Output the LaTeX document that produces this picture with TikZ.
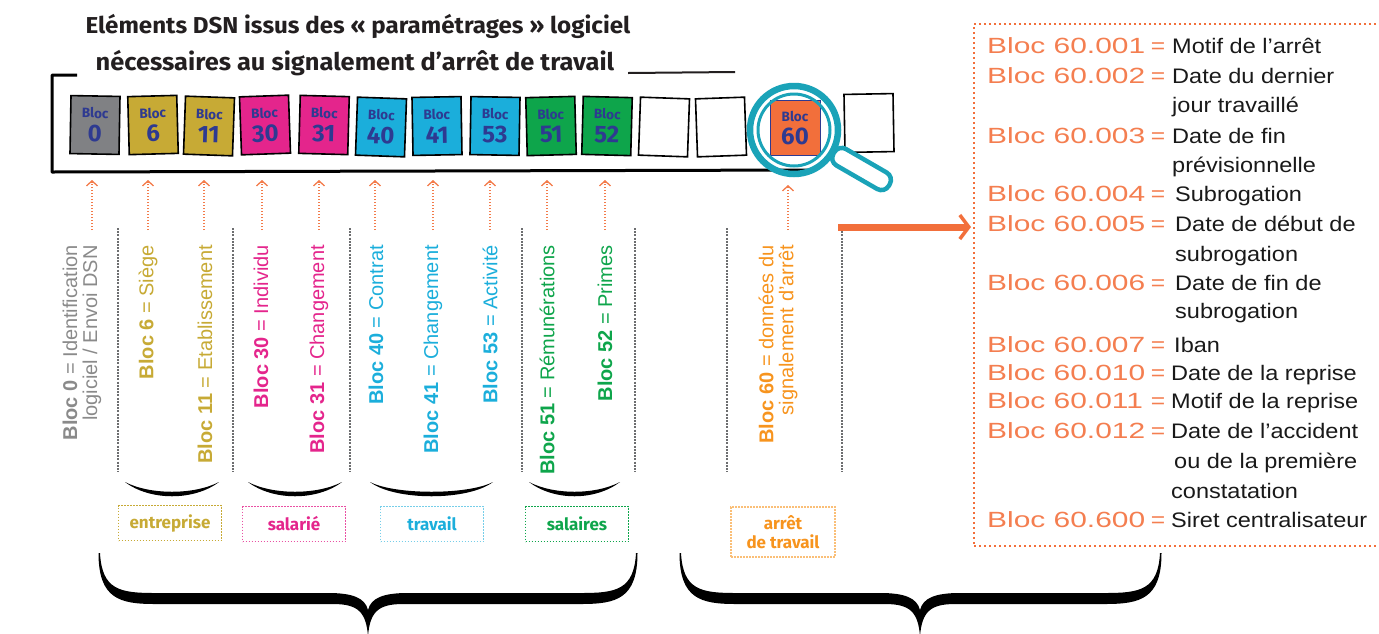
\documentclass[tikz,border=0pt]{standalone}
\usepackage{fontspec}
\setmainfont{Liberation Sans}
\newfontfamily\titlefont{Fira Sans}
\newfontfamily\titlewide[FakeStretch=1.05]{Fira Sans}
\newfontfamily\panelfont[FakeStretch=1.12]{Liberation Sans}
\newfontfamily\panelwide[FakeStretch=1.36]{Liberation Sans}
\usetikzlibrary{arrows.meta}
\definecolor{cgrey}{HTML}{808184}
\definecolor{cgold}{HTML}{C7AA35}
\definecolor{cmag}{HTML}{E4258C}
\definecolor{ccyan}{HTML}{1BAEDB}
\definecolor{cgreen}{HTML}{0EA54B}
\definecolor{cbox60}{HTML}{F26F3B}
\definecolor{cblue}{HTML}{2E3A91}
\definecolor{corange}{HTML}{F7941E}
\definecolor{carrow}{HTML}{F37B4A}
\definecolor{cpanel}{HTML}{F47E50}
\definecolor{cteal}{HTML}{1AA3B8}
\definecolor{csep}{HTML}{6D6E70}
\definecolor{ctxtgrey}{HTML}{8A8A8A}
\definecolor{ctitle}{HTML}{231F20}
\newcommand{\dsnbrace}[3]{%
\fill ({#1},553) .. controls ({#1+2},590) and ({#1+20},593) .. ({#1+55},593) -- ({#2-40},593) .. controls ({#2-15},593) and ({#2-3},598) .. ({#2},610) .. controls ({#2+3},598) and ({#2+15},593) .. ({#2+40},593) -- ({#3-55},593) .. controls ({#3-20},593) and ({#3-2},590) .. ({#3},553) -- ({#3+1.5},553) .. controls ({#3+1.5},599) and ({#3-20},604) .. ({#3-55},604) -- ({#2+35},604) .. controls ({#2+10},604) and ({#2+2},612) .. ({#2},636) .. controls ({#2-2},612) and ({#2-10},604) .. ({#2-35},604) -- ({#1+55},604) .. controls ({#1+20},604) and ({#1-1.5},599) .. ({#1-1.5},553) -- cycle;}
\newcommand{\dsnsmile}[2]{%
\fill ({#1},482) .. controls ({#1+25},501) and ({#2-25},501) .. ({#2},482) .. controls ({#2-25},495) and ({#1+25},495) .. ({#1},482) -- cycle;}
\begin{document}
\begin{tikzpicture}[x=1pt,y=-1pt,
  blk/.style={draw=black, line width=1.6pt, minimum width=49pt, minimum height=58pt, inner sep=0pt, align=center, font=\titlefont\bfseries, text=cblue},
  vlab/.style={rotate=90, anchor=east, inner sep=0pt, align=right, font=\fontsize{20}{20}\selectfont},
  uparrow/.style={draw=carrow, line width=1.3pt, dash pattern=on 1.5pt off 1.5pt, -{Straight Barb[length=5pt,width=11pt,line width=1.3pt]}},
  sepline/.style={draw=csep, line width=2.8pt, dash pattern=on 2pt off 1.2pt},
  grp/.style={line width=1.2pt, dash pattern=on 1.6pt off 1.4pt, minimum width=103pt, minimum height=35pt, inner sep=0pt, font=\titlefont\bfseries\fontsize{17}{19}\selectfont, align=center},
  ttl/.style={anchor=base, inner sep=0pt, text=ctitle, font=\titlewide\bfseries\fontsize{23}{23}\selectfont},
  pora/.style={anchor=base west, inner sep=0pt, text=cpanel, font=\panelwide\fontsize{22}{22}\selectfont},
  peq/.style={anchor=base, inner sep=0pt, text=cpanel, font=\panelfont\fontsize{22}{22}\selectfont},
  pblk/.style={anchor=base west, inner sep=0pt, text=black!90, font=\panelfont\fontsize{21}{21}\selectfont}
]
\useasboundingbox (0,0) rectangle (1379,633);
\clip (0,0) rectangle (1379,633);
% title
\node[ttl] (title1) at (358,33) {Eléments DSN issus des « paramétrages » logiciel};
\node[ttl, font=\titlewide\bfseries\fontsize{24.2}{24}\selectfont] (title2) at (355,70) {nécessaires au signalement d’arrêt de travail};
\draw[line width=2pt, ctitle] (628,73) -- (735,72);
% frame
\draw[line width=3pt, line join=round] (77,75) -- (52,75) -- (52,172) -- (813,170);
% boxes
\newcommand{\bl}[1]{{\fontsize{13.5}{13.5}\selectfont Bloc}\\[6pt]{\fontsize{24}{24}\selectfont #1}}
\node[blk, fill=cgrey, rotate=-1] (b0) at (95,125) {\bl{0}};
\node[blk, fill=cgold, rotate=1.5] (b6) at (153,125) {\bl{6}};
\node[blk, fill=cgold, rotate=-2] (b11) at (209,126) {\bl{11}};
\node[blk, fill=cmag, rotate=2] (b30) at (265,125) {\bl{30}};
\node[blk, fill=cmag, rotate=-1.5] (b31) at (324,125) {\bl{31}};
\node[blk, fill=ccyan, rotate=-2] (b40) at (381,127) {\bl{40}};
\node[blk, fill=ccyan, rotate=1] (b41) at (437,126) {\bl{41}};
\node[blk, fill=ccyan, rotate=-1] (b53) at (495,126) {\bl{53}};
\node[blk, fill=cgreen, rotate=1.5] (b51) at (551,126) {\bl{51}};
\node[blk, fill=cgreen, rotate=-1.5] (b52) at (607,126) {\bl{52}};
\node[blk, rotate=-2] (e1) at (664,127) {};
\node[blk, rotate=2] (e2) at (721,127) {};
\node[blk, fill=cbox60, draw=cblue, line width=1pt, minimum height=55pt, minimum width=50pt] (b60) at (795,128) {\bl{60}};
\node[blk, rotate=1] (e3) at (869,123) {};
% magnifier
\begin{scope}[shift={(794,130)}, rotate=-30]
\draw[cteal, line width=4.5pt, fill=white, rounded corners=8.5pt] (46,-9.5) rectangle (110,9.5);
\end{scope}
\draw[cteal, line width=6.5pt] (794,130) circle[radius=44];
\draw[cteal, line width=3pt] (794,130) circle[radius=36];
% arrows to blocks
\foreach \n/\x in {0/92,6/148,11/204,30/262,31/319,40/375,41/433,53/490,51/547,52/605}{
  \coordinate (t\n) at (\x,230);
  \coordinate (h\n) at (\x,180);
  \draw[uparrow] (t\n) -- (h\n);
}
\coordinate (t60) at (788,230);
\coordinate (h60) at (788,185);
\draw[uparrow] (t60) -- (h60);
% separators
\foreach \x [count=\i] in {118,233,350,522,635,727,842}{
  \coordinate (s\i a) at (\x,228);
  \coordinate (s\i b) at (\x,472);
  \draw[sepline] (s\i a) -- (s\i b);
}
% vertical labels
\node[vlab, text=ctxtgrey] (l0) at (82,245) {\textbf{Bloc 0} = Identification\\logiciel / Envoi DSN};
\node[vlab, text=cgold] (l6) at (148,245) {\textbf{Bloc 6} = Siège};
\node[vlab, text=cgold] (l11) at (205,245) {\textbf{Bloc 11} = Etablissement};
\node[vlab, text=cmag] (l30) at (261,245) {\textbf{Bloc 30} = Individu};
\node[vlab, text=cmag] (l31) at (319,245) {\textbf{Bloc 31} = Changement};
\node[vlab, text=ccyan] (l40) at (376,245) {\textbf{Bloc 40} = Contrat};
\node[vlab, text=ccyan] (l41) at (433,245) {\textbf{Bloc 41} = Changement};
\node[vlab, text=ccyan] (l53) at (490,245) {\textbf{Bloc 53} = Activité};
\node[vlab, text=cgreen] (l51) at (547,245) {\textbf{Bloc 51} = Rémunérations};
\node[vlab, text=cgreen] (l52) at (605,245) {\textbf{Bloc 52} = Primes};
\node[vlab, text=corange] (l60) at (778,245) {\textbf{Bloc 60} = données du\\signalement d'arrêt};
% smiles
\dsnsmile{125}{219}
\dsnsmile{248}{342}
\dsnsmile{370}{493}
\dsnsmile{529}{620}
% group boxes
\node[grp, draw=cgold, text=cgold] (gent) at (170,523) {entreprise};
\node[grp, draw=cmag!80, text=cmag] (gsal) at (294,524) {salarié};
\node[grp, draw=ccyan!60, text=ccyan] (gtra) at (432,524) {travail};
\node[grp, draw=cgreen, text=cgreen] (gsla) at (577,524) {salaires};
\node[grp, draw=corange!60, text=corange, minimum height=50pt, minimum width=104pt] (garr) at (783,532) {arrêt\\de travail};
% braces
\dsnbrace{100}{368}{636}
\dsnbrace{681}{920}{1160}
% panel
\node[draw=cbox60, line width=2.4pt, dash pattern=on 2pt off 3pt, minimum width=425pt, minimum height=522pt, anchor=north west, inner sep=0pt] (panel) at (973,23) {};
\coordinate (bigA) at (838,227);
\coordinate (bigB) at (971,227);
\draw[cbox60, line width=7pt, -{Straight Barb[length=9pt,width=24pt,line width=3.5pt]}] (bigA) -- (bigB);
% panel entries
\foreach \b/\y in {001/53,002/83,003/143,004/201,005/231,006/290,007/352,010/380,011/408,012/438,600/527}{
  \node[pora] (p\b) at (987,\y) {Bloc 60.\b};
  \node[peq] (q\b) at (1158,\y) {=};
}
\node[pblk] (d001) at (1172,53) {Motif de l’arrêt};
\node[pblk] (d002) at (1172,83) {Date du dernier};
\node[pblk] (d002b) at (1172,112) {jour travaillé};
\node[pblk] (d003) at (1172,143) {Date de fin};
\node[pblk] (d003b) at (1172,172) {prévisionnelle};
\node[pblk] (d004) at (1175,201) {Subrogation};
\node[pblk] (d005) at (1175,231) {Date de début de};
\node[pblk] (d005b) at (1175,261) {subrogation};
\node[pblk] (d006) at (1175,290) {Date de fin de};
\node[pblk] (d006b) at (1175,318) {subrogation};
\node[pblk] (d007) at (1174,352) {Iban};
\node[pblk] (d010) at (1171,380) {Date de la reprise};
\node[pblk] (d011) at (1171,408) {Motif de la reprise};
\node[pblk] (d012) at (1171,438) {Date de l’accident};
\node[pblk] (d012b) at (1174,468) {ou de la première};
\node[pblk] (d012c) at (1171,498) {constatation};
\node[pblk] (d600) at (1171,527) {Siret centralisateur};
\end{tikzpicture}
\end{document}
